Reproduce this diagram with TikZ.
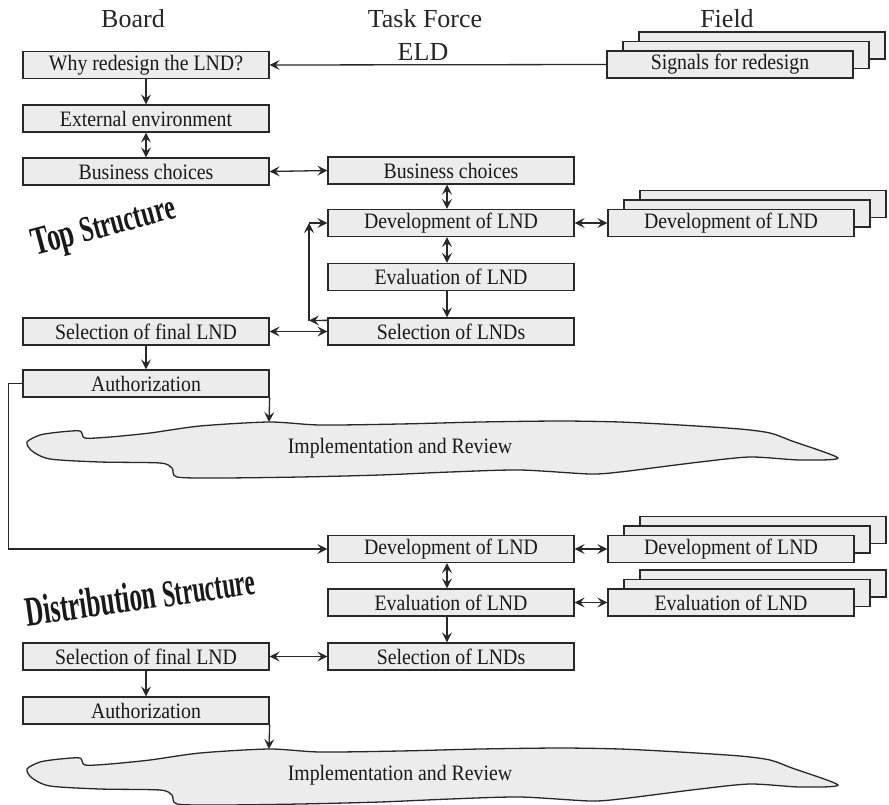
\documentclass[tikz,border=0pt]{standalone}
\usepackage{fontspec}
\setmainfont{Liberation Serif}
\newfontfamily\boxfont[FakeStretch=0.9]{Liberation Serif}
\usetikzlibrary{arrows.meta}
\definecolor{boxfill}{RGB}{236,236,236}
\definecolor{inkline}{RGB}{40,40,40}

% a box with two copies stacked behind it (name, cx, cy, text)
\newcommand\fieldstack[4]{%
  \draw[backbox] ({#2-123+32},{#3-13.5-19}) rectangle ({#2+123+32},{#3+13.5-19});
  \draw[backbox] ({#2-123+16},{#3-13.5-9.5}) rectangle ({#2+123+16},{#3+13.5-9.5});
  \node[box] (#1) at (#2,#3) {#4};
}

% outline of the "Implementation and Review" cloud
\newcommand\cloudpath{plot[smooth cycle, tension=0.45] coordinates {
  (27,442) (40,435) (60,432) (80,431) (85,438) (110,437) (150,433) (200,426)
  (269,422) (320,425) (400,424) (480,422) (560,421) (620,422) (680,425)
  (740,429) (770,433) (792,441) (838,458) (800,460) (750,457) (700,462)
  (660,467) (620,472) (590,474) (520,470) (450,472) (380,475) (300,477)
  (220,478) (177,477) (172,468) (160,463) (100,462) (50,459) (32,451)}}

\begin{document}
\begin{tikzpicture}[x=1pt,y=-1pt,
  >={Stealth[length=10pt,width=10pt,inset=4pt]},
  box/.style={draw=inkline,line width=1.3pt,fill=boxfill,minimum width=246pt,
    minimum height=27pt,inner sep=0pt,text=black!90,
    font=\boxfont\fontsize{22}{24}\selectfont},
  backbox/.style={draw=inkline,line width=1.3pt,fill=boxfill},
  link/.style={draw=inkline,line width=1.3pt},
  head/.style={font=\fontsize{26}{28}\selectfont,anchor=base,text=black!85},
  wordart/.style={inner sep=0pt,font=\bfseries,text=black!90},
  cloud/.style={draw=inkline,line width=1.3pt,fill=boxfill},
  cloudtext/.style={font=\boxfont\fontsize{22}{24}\selectfont,text=black!90}
]
\fill[white] (0,0) rectangle (889,804);
\useasboundingbox (0,0) rectangle (889,804);

% column headings
\node[head] (hboard) at (133,27) {Board};
\node[head] (htask) at (425,27) {Task Force};
\node[head] (held) at (423,60) {ELD};
\node[head] (hfield) at (727,27) {Field};

% slanted section titles
\node[wordart,rotate=15] (topstr) at (104,228)
  {\scalebox{0.66}[1]{\fontsize{40}{40}\selectfont Top \fontsize{36}{36}\selectfont Structure}};
\node[wordart,rotate=8] (diststr) at (140,596)
  {\scalebox{0.6}[1]{\fontsize{42}{42}\selectfont Distribution \fontsize{38}{38}\selectfont Structure}};

% implementation clouds
\draw[cloud] \cloudpath;
\node[cloudtext] (implA) at (400,448) {Implementation and Review};
\begin{scope}[shift={(0,327)}]
  \draw[cloud] \cloudpath;
\end{scope}
\node[cloudtext] (implB) at (400,775) {Implementation and Review};

% top structure boxes
\node[box] (why) at (146,65) {Why redesign the LND?};
\node[box] (ext) at (146,118.5) {External environment};
\node[box] (busL) at (146,171.5) {Business choices};
\node[box] (busM) at (451,170.5) {Business choices};
\node[box] (devM) at (451,223) {Development of LND};
\node[box] (evalM) at (451,277) {Evaluation of LND};
\node[box] (selM) at (451,331.5) {Selection of LNDs};
\node[box] (selL) at (146,331.5) {Selection of final LND};
\node[box] (auth) at (146,383.5) {Authorization};
\fieldstack{sig}{730}{64.5}{Signals for redesign}
\fieldstack{fdevA}{731}{223}{Development of LND}

% distribution structure boxes
\node[box] (devB) at (451,549) {Development of LND};
\node[box] (evalB) at (451,602.5) {Evaluation of LND};
\node[box] (selB) at (451,656.5) {Selection of LNDs};
\node[box] (selLB) at (146,656.5) {Selection of final LND};
\node[box] (authB) at (146,710.5) {Authorization};
\fieldstack{fdevB}{731}{549}{Development of LND}
\fieldstack{fevalB}{731}{602.5}{Evaluation of LND}

% connectors, top structure
\draw[link,->] (sig.west) -- (why.east);
\draw[link,->] (why.south) -- (ext.north);
\draw[link,<->] (ext.south) -- (busL.north);
\draw[link,<->] (busL.east) -- (busM.west);
\draw[link,<->] ([xshift=-4pt]busM.south) -- ([xshift=-4pt]devM.north);
\draw[link,<->] (devM.east) -- (fdevA.west);
\draw[link,<->] ([xshift=-4pt]devM.south) -- ([xshift=-4pt]evalM.north);
\draw[link,->] ([xshift=-4pt]evalM.south) -- ([xshift=-4pt]selM.north);
\draw[link,<->] (selL.east) -- (selM.west);
\coordinate (loopB) at (309,320.5);
\coordinate (loopT) at (309,223);
\draw[link,->] ([yshift=-3pt]selM.north west) -- (loopB);
\draw[link,->] (loopB) -- (loopT);
\draw[link,->] (loopT) -- (devM.west);
\draw[link,->] (selL.south) -- (auth.north);
\coordinate (cloudAtop) at (269,422);
\draw[link,->] (auth.south east) -- (cloudAtop);
\draw[link,->] (auth.west) -- ++(-14,0) |- (devB.west);

% connectors, distribution structure
\draw[link,<->] (devB.east) -- (fdevB.west);
\draw[link,<->] ([xshift=-4pt]devB.south) -- ([xshift=-4pt]evalB.north);
\draw[link,<->] (evalB.east) -- (fevalB.west);
\draw[link,->] ([xshift=-4pt]evalB.south) -- ([xshift=-4pt]selB.north);
\draw[link,<->] (selLB.east) -- (selB.west);
\draw[link,->] (selLB.south) -- (authB.north);
\coordinate (cloudBtop) at (269,749);
\draw[link,->] (authB.south east) -- (cloudBtop);
\end{tikzpicture}
\end{document}
